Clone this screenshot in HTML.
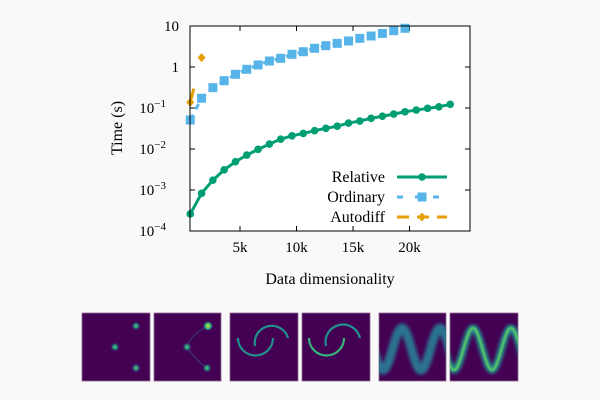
<!DOCTYPE html>
<html><head><meta charset="utf-8"><style>
body{margin:0;background:#f9f9f9;}
svg{display:block;font-family:"Liberation Serif",serif;}
</style></head><body>
<svg id="c" width="600" height="400" viewBox="0 0 600 400">
<defs>
<filter id="bl" x="-50%" y="-50%" width="200%" height="200%"><feGaussianBlur stdDeviation="1.6"/></filter>
<filter id="bl1" x="-50%" y="-50%" width="200%" height="200%"><feGaussianBlur stdDeviation="0.8"/></filter>
<radialGradient id="blob"><stop offset="0" stop-color="#5ec962"/><stop offset="0.4" stop-color="#21918c"/><stop offset="1" stop-color="#440154" stop-opacity="0"/></radialGradient>
<radialGradient id="blobY"><stop offset="0" stop-color="#fde725"/><stop offset="0.35" stop-color="#5ec962"/><stop offset="0.7" stop-color="#21918c"/><stop offset="1" stop-color="#440154" stop-opacity="0"/></radialGradient>
<clipPath id="c5"><rect x="379" y="313" width="67" height="68"/></clipPath>
<clipPath id="c6"><rect x="450" y="313" width="68" height="68"/></clipPath>
</defs>
<rect width="600" height="400" fill="#f9f9f9"/>
<g id="plot"></g>
<g id="thumbs">
  <g>
    <rect x="82" y="313" width="68" height="68" fill="#440154" stroke="#8a6c90" stroke-width="0.8"/>
    <circle cx="136" cy="326" r="5" fill="url(#blob)"/><circle cx="115" cy="347" r="5" fill="url(#blob)"/><circle cx="136" cy="368" r="5" fill="url(#blob)"/>
  </g>
  <g>
    <rect x="154" y="313" width="67" height="68" fill="#440154" stroke="#8a6c90" stroke-width="0.8"/>
    <path d="M208 326 Q190 335 187 347 Q195 360 207 368" stroke="#31688e" stroke-width="0.8" fill="none" opacity="0.7"/>
    <circle cx="208" cy="326" r="5" fill="url(#blobY)"/><circle cx="187" cy="347" r="5" fill="url(#blob)"/><circle cx="207" cy="368" r="5" fill="url(#blob)"/>
  </g>
  <g>
    <rect x="230" y="313" width="68" height="68" fill="#440154" stroke="#8a6c90" stroke-width="0.8"/>
    <path d="M238 338 A17 17 0 0 0 273 338" stroke="#21918c" stroke-width="2.2" fill="none"/>
    <path d="M255 346 A17 17 0 0 1 288 338" stroke="#21918c" stroke-width="2.2" fill="none"/>
  </g>
  <g>
    <rect x="302" y="313" width="68" height="68" fill="#440154" stroke="#8a6c90" stroke-width="0.8"/>
    <path d="M309 338 A17 17 0 0 0 344 338" stroke="#35b779" stroke-width="2.2" fill="none"/>
    <path d="M326 346 A17 17 0 0 1 360 338" stroke="#21918c" stroke-width="2.2" fill="none"/>
  </g>
  <g>
    <rect x="379" y="313" width="67" height="68" fill="#440154" stroke="#8a6c90" stroke-width="0.8"/>
    <g clip-path="url(#c5)"><path id="s5" stroke="#2c728e" stroke-width="9" fill="none" filter="url(#bl)"/></g>
  </g>
  <g>
    <rect x="450" y="313" width="68" height="68" fill="#440154" stroke="#8a6c90" stroke-width="0.8"/>
    <g clip-path="url(#c6)"><path id="s6a" stroke="#21918c" stroke-width="7" fill="none" filter="url(#bl)"/>
    <path id="s6b" stroke="#5ec962" stroke-width="2.2" fill="none" filter="url(#bl1)"/></g>
  </g>
</g>
</svg>
<script>
const relX=[600,1600,2600,3600,4600,5600,6600,7600,8600,9600,10600,11600,12600,13600,14600,15600,16600,17600,18600,19600,20600,21600,22600,23600];
const relY=[2.6e-4,8.3e-4,1.74e-3,3.1e-3,4.9e-3,7.1e-3,9.8e-3,0.0132,0.0174,0.021,0.024,0.028,0.032,0.036,0.043,0.048,0.056,0.063,0.071,0.081,0.089,0.098,0.107,0.123];
const ordX=[600,1600,2600,3600,4600,5600,6600,7600,8600,9600,10600,11600,12600,13600,14600,15600,16600,17600,18600,19600];
const ordY=[0.051,0.173,0.313,0.463,0.664,0.879,1.12,1.40,1.63,2.04,2.36,2.86,3.31,3.78,4.31,5.0,5.7,6.6,7.7,8.8];
const autoX=[600,1600];
const autoY=[0.138,1.69];
const xTicks=[5000,10000,15000,20000];
const xTickLabels=["5k","10k","15k","20k"];
const yTicks=[-4,-3,-2,-1,0,1];

const NS="http://www.w3.org/2000/svg";
// sine thumbnails (decorative)
function sine(x0,x1,peak){let d='';for(let x=x0-5;x<=x1+5;x+=1){const y=349-21*Math.cos(2*Math.PI*(x-peak)/38);d+=(d?'L':'M')+x+' '+y.toFixed(1);}return d;}
document.getElementById('s5').setAttribute('d',sine(379,446,402));
document.getElementById('s6a').setAttribute('d',sine(450,518,473));
document.getElementById('s6b').setAttribute('d',sine(450,518,473));

const L=190,R=470,T=26,B=231;
const xMin=576,xMax=25350;
function sx(v){return L+(v-xMin)/(xMax-xMin)*(R-L);}
function sy(v){return T+(1-Math.log10(v))*(B-T)/5;}
const g=document.getElementById('plot');
function mk(tag,attrs,parent){const e=document.createElementNS(NS,tag);for(const k in attrs)e.setAttribute(k,attrs[k]);(parent||g).appendChild(e);return e;}

let fr=mk('rect',{x:L,y:T,width:R-L,height:B-T,fill:'#fff',stroke:'#000','stroke-width':1});


xTicks.forEach((t,i)=>{
  const x=sx(t);
  mk('line',{x1:x,x2:x,y1:B,y2:B-5,stroke:'#000'});
  mk('line',{x1:x,x2:x,y1:T,y2:T+5,stroke:'#000'});
  const tx=mk('text',{x:x,y:252,'text-anchor':'middle','font-size':15});
  tx.textContent=xTickLabels[i];
  
  
});
yTicks.forEach(p=>{
  const y=sy(Math.pow(10,p));
  mk('line',{x1:L,x2:L+5,y1:y,y2:y,stroke:'#000'});
  mk('line',{x1:R,x2:R-5,y1:y,y2:y,stroke:'#000'});
  const tx=mk('text',{x:179,y:y+5,'text-anchor':'end','font-size':15});
  if(p===0){tx.textContent='1';}
  else if(p===1){tx.textContent='10';}
  else{tx.textContent='10';const s=mk('tspan',{dy:-6,'font-size':11},tx);s.textContent='−'+(-p);tx.setAttribute('x',166);}
  
  
});
let xt=mk('text',{x:330,y:284,'text-anchor':'middle','font-size':16});xt.textContent='Data dimensionality';


let yt=mk('text',{x:0,y:0,'text-anchor':'middle','font-size':16,transform:'translate(122,128) rotate(-90)'});yt.textContent='Time (s)';



function pts(X,Y){return X.map((x,i)=>sx(x)+','+sy(Y[i])).join(' ');}
let ol=mk('polyline',{points:pts(ordX,ordY),fill:'none',stroke:'#56b4e9','stroke-width':3,'stroke-dasharray':'6 6'});


ordX.forEach((x,i)=>{const r=mk('rect',{x:sx(x)-4.5,y:sy(ordY[i])-4.5,width:9,height:9,fill:'#56b4e9'});

});
let rl=mk('polyline',{points:pts(relX,relY),fill:'none',stroke:'#009e73','stroke-width':3});


relX.forEach((x,i)=>{const c=mk('circle',{cx:sx(x),cy:sy(relY[i]),r:3.8,fill:'#009e73'});

});
let al=mk('polyline',{points:pts(autoX,autoY),fill:'none',stroke:'#e69f00','stroke-width':3,'stroke-dasharray':'14 30'});


autoX.forEach((x,i)=>{const X=sx(x),Y=sy(autoY[i]);const d=mk('polygon',{points:`${X},${Y-4.5} ${X+4},${Y} ${X},${Y+4.5} ${X-4},${Y}`,fill:'#e69f00'});

});

const leg=mk('g',{});


[['Relative','#009e73','',177,'c'],['Ordinary','#56b4e9','6 12',197,'s'],['Autodiff','#e69f00','12 8',217,'d']].forEach(([n,c,da,y,m])=>{
  const e=mk('g',{},leg);
  
  
  const t=mk('text',{x:385,y:y+5,'text-anchor':'end','font-size':16},e);t.textContent=n;
  mk('line',{x1:397,x2:447,y1:y,y2:y,stroke:c,'stroke-width':3,'stroke-dasharray':da},e);
  if(m==='c')mk('circle',{cx:422,cy:y,r:3.8,fill:c},e);
  if(m==='s')mk('rect',{x:417.5,y:y-4.5,width:9,height:9,fill:c},e);
  if(m==='d')mk('polygon',{points:`422,${y-4.5} 426,${y} 422,${y+4.5} 418,${y}`,fill:c},e);
});
mk('rect',{x:L,y:T,width:R-L,height:B-T,fill:'none',stroke:'#000','stroke-width':1});
</script>
</body></html>
